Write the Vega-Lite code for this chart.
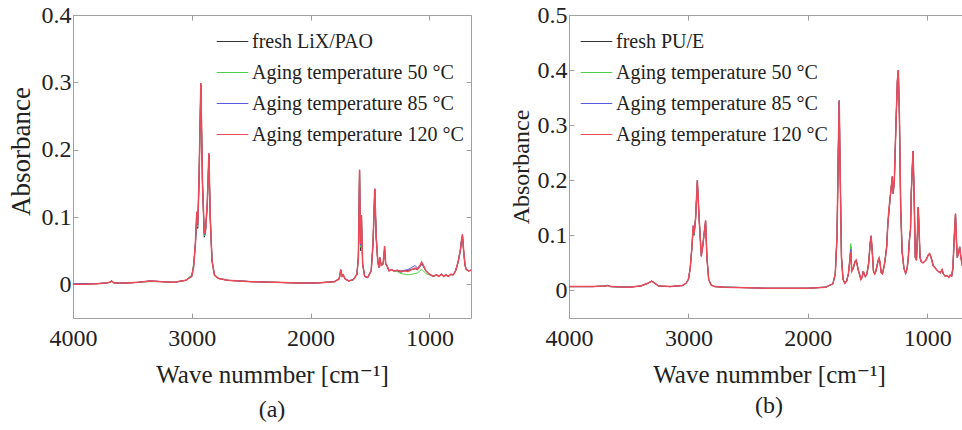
{
"$schema": "https://vega.github.io/schema/vega-lite/v6.json",
"background": "white",
"padding": {"left": 6, "top": 2, "right": 0, "bottom": 0},
"config": {
 "font": "Liberation Serif, Times New Roman, DejaVu Serif, serif",
 "view": {"stroke": "#a0a0a0", "strokeWidth": 1},
 "axis": {"grid": false, "domain": false, "labelFlush": false, "labelFont": "Liberation Serif, Times New Roman, DejaVu Serif, serif", "labelFontSize": 24, "labelColor": "#222222", "titleFont": "Liberation Serif, Times New Roman, DejaVu Serif, serif", "titleFontSize": 25, "titleFontWeight": "normal", "titleColor": "#222222", "tickColor": "#a0a0a0", "tickSize": -5, "tickWidth": 1},
 "legend": {"labelFont": "Liberation Serif, Times New Roman, DejaVu Serif, serif", "labelFontSize": 20, "labelColor": "#222222", "labelLimit": 0},
 "title": {"font": "Liberation Serif, Times New Roman, DejaVu Serif, serif", "fontSize": 24, "fontWeight": "normal", "color": "#222222"}
},
"datasets": {
"a": [
{"s":"f","w":4000,"v":0},{"s":"f","w":3900,"v":0.001},{"s":"f","w":3800,"v":0.001},{"s":"f","w":3720,"v":0.002},{"s":"f","w":3690,"v":0.003},{"s":"f","w":3675,"v":0.005},{"s":"f","w":3655,"v":0.002},{"s":"f","w":3550,"v":0.002},{"s":"f","w":3450,"v":0.003},{"s":"f","w":3350,"v":0.005},{"s":"f","w":3250,"v":0.004},{"s":"f","w":3150,"v":0.003},{"s":"f","w":3050,"v":0.006},{"s":"f","w":3000,"v":0.013},{"s":"f","w":2985,"v":0.028},{"s":"f","w":2970,"v":0.058},{"s":"f","w":2962,"v":0.085},{"s":"f","w":2957,"v":0.093},{"s":"f","w":2950,"v":0.083},{"s":"f","w":2940,"v":0.145},{"s":"f","w":2924,"v":0.295},{"s":"f","w":2910,"v":0.148},{"s":"f","w":2895,"v":0.07},{"s":"f","w":2885,"v":0.076},{"s":"f","w":2870,"v":0.117},{"s":"f","w":2856,"v":0.19},{"s":"f","w":2845,"v":0.1},{"s":"f","w":2830,"v":0.036},{"s":"f","w":2810,"v":0.015},{"s":"f","w":2780,"v":0.009},{"s":"f","w":2700,"v":0.006},{"s":"f","w":2500,"v":0.004},{"s":"f","w":2300,"v":0.003},{"s":"f","w":2100,"v":0.002},{"s":"f","w":1950,"v":0.002},{"s":"f","w":1800,"v":0.004},{"s":"f","w":1760,"v":0.008},{"s":"f","w":1746,"v":0.02},{"s":"f","w":1735,"v":0.012},{"s":"f","w":1725,"v":0.014},{"s":"f","w":1710,"v":0.008},{"s":"f","w":1680,"v":0.005},{"s":"f","w":1640,"v":0.007},{"s":"f","w":1610,"v":0.015},{"s":"f","w":1598,"v":0.04},{"s":"f","w":1588,"v":0.165},{"s":"f","w":1580,"v":0.05},{"s":"f","w":1572,"v":0.095},{"s":"f","w":1562,"v":0.03},{"s":"f","w":1545,"v":0.012},{"s":"f","w":1520,"v":0.01},{"s":"f","w":1490,"v":0.02},{"s":"f","w":1475,"v":0.06},{"s":"f","w":1460,"v":0.141},{"s":"f","w":1448,"v":0.07},{"s":"f","w":1435,"v":0.035},{"s":"f","w":1425,"v":0.025},{"s":"f","w":1418,"v":0.038},{"s":"f","w":1405,"v":0.028},{"s":"f","w":1390,"v":0.03},{"s":"f","w":1377,"v":0.052},{"s":"f","w":1368,"v":0.03},{"s":"f","w":1355,"v":0.027},{"s":"f","w":1340,"v":0.02},{"s":"f","w":1320,"v":0.022},{"s":"f","w":1300,"v":0.02},{"s":"f","w":1270,"v":0.02},{"s":"f","w":1240,"v":0.018},{"s":"f","w":1210,"v":0.02},{"s":"f","w":1180,"v":0.021},{"s":"f","w":1150,"v":0.022},{"s":"f","w":1120,"v":0.023},{"s":"f","w":1100,"v":0.022},{"s":"f","w":1080,"v":0.026},{"s":"f","w":1065,"v":0.03},{"s":"f","w":1050,"v":0.026},{"s":"f","w":1030,"v":0.02},{"s":"f","w":1000,"v":0.015},{"s":"f","w":970,"v":0.012},{"s":"f","w":940,"v":0.014},{"s":"f","w":920,"v":0.012},{"s":"f","w":900,"v":0.015},{"s":"f","w":880,"v":0.012},{"s":"f","w":860,"v":0.014},{"s":"f","w":840,"v":0.012},{"s":"f","w":820,"v":0.015},{"s":"f","w":800,"v":0.014},{"s":"f","w":780,"v":0.02},{"s":"f","w":760,"v":0.032},{"s":"f","w":740,"v":0.05},{"s":"f","w":730,"v":0.065},{"s":"f","w":722,"v":0.072},{"s":"f","w":712,"v":0.05},{"s":"f","w":700,"v":0.028},{"s":"f","w":690,"v":0.022},{"s":"f","w":670,"v":0.02},{"s":"f","w":650,"v":0.021},
{"s":"g","w":4000,"v":0},{"s":"g","w":3900,"v":0},{"s":"g","w":3800,"v":0.001},{"s":"g","w":3720,"v":0.002},{"s":"g","w":3690,"v":0.003},{"s":"g","w":3675,"v":0.004},{"s":"g","w":3655,"v":0.002},{"s":"g","w":3550,"v":0.002},{"s":"g","w":3450,"v":0.003},{"s":"g","w":3350,"v":0.004},{"s":"g","w":3250,"v":0.004},{"s":"g","w":3150,"v":0.003},{"s":"g","w":3050,"v":0.006},{"s":"g","w":3000,"v":0.014},{"s":"g","w":2985,"v":0.03},{"s":"g","w":2970,"v":0.06},{"s":"g","w":2962,"v":0.088},{"s":"g","w":2957,"v":0.095},{"s":"g","w":2950,"v":0.085},{"s":"g","w":2940,"v":0.148},{"s":"g","w":2924,"v":0.297},{"s":"g","w":2910,"v":0.149},{"s":"g","w":2895,"v":0.072},{"s":"g","w":2885,"v":0.078},{"s":"g","w":2870,"v":0.118},{"s":"g","w":2856,"v":0.192},{"s":"g","w":2845,"v":0.1},{"s":"g","w":2830,"v":0.035},{"s":"g","w":2810,"v":0.014},{"s":"g","w":2780,"v":0.009},{"s":"g","w":2700,"v":0.006},{"s":"g","w":2500,"v":0.004},{"s":"g","w":2300,"v":0.003},{"s":"g","w":2100,"v":0.002},{"s":"g","w":1950,"v":0.002},{"s":"g","w":1800,"v":0.004},{"s":"g","w":1760,"v":0.008},{"s":"g","w":1746,"v":0.021},{"s":"g","w":1735,"v":0.012},{"s":"g","w":1725,"v":0.014},{"s":"g","w":1710,"v":0.008},{"s":"g","w":1680,"v":0.005},{"s":"g","w":1640,"v":0.007},{"s":"g","w":1610,"v":0.015},{"s":"g","w":1598,"v":0.04},{"s":"g","w":1588,"v":0.168},{"s":"g","w":1580,"v":0.055},{"s":"g","w":1572,"v":0.1},{"s":"g","w":1562,"v":0.03},{"s":"g","w":1545,"v":0.012},{"s":"g","w":1520,"v":0.01},{"s":"g","w":1490,"v":0.02},{"s":"g","w":1475,"v":0.06},{"s":"g","w":1460,"v":0.14},{"s":"g","w":1448,"v":0.07},{"s":"g","w":1435,"v":0.035},{"s":"g","w":1425,"v":0.025},{"s":"g","w":1418,"v":0.036},{"s":"g","w":1405,"v":0.028},{"s":"g","w":1390,"v":0.03},{"s":"g","w":1377,"v":0.05},{"s":"g","w":1368,"v":0.03},{"s":"g","w":1355,"v":0.026},{"s":"g","w":1340,"v":0.02},{"s":"g","w":1320,"v":0.021},{"s":"g","w":1300,"v":0.02},{"s":"g","w":1270,"v":0.019},{"s":"g","w":1240,"v":0.016},{"s":"g","w":1210,"v":0.015},{"s":"g","w":1180,"v":0.014},{"s":"g","w":1150,"v":0.015},{"s":"g","w":1120,"v":0.016},{"s":"g","w":1100,"v":0.017},{"s":"g","w":1080,"v":0.02},{"s":"g","w":1065,"v":0.022},{"s":"g","w":1050,"v":0.02},{"s":"g","w":1030,"v":0.016},{"s":"g","w":1000,"v":0.014},{"s":"g","w":970,"v":0.012},{"s":"g","w":940,"v":0.013},{"s":"g","w":920,"v":0.012},{"s":"g","w":900,"v":0.014},{"s":"g","w":880,"v":0.012},{"s":"g","w":860,"v":0.013},{"s":"g","w":840,"v":0.012},{"s":"g","w":820,"v":0.014},{"s":"g","w":800,"v":0.014},{"s":"g","w":780,"v":0.02},{"s":"g","w":760,"v":0.032},{"s":"g","w":740,"v":0.05},{"s":"g","w":730,"v":0.065},{"s":"g","w":722,"v":0.073},{"s":"g","w":712,"v":0.05},{"s":"g","w":700,"v":0.028},{"s":"g","w":690,"v":0.022},{"s":"g","w":670,"v":0.02},{"s":"g","w":650,"v":0.021},
{"s":"b","w":4000,"v":0.001},{"s":"b","w":3900,"v":0.001},{"s":"b","w":3800,"v":0.001},{"s":"b","w":3720,"v":0.002},{"s":"b","w":3690,"v":0.003},{"s":"b","w":3675,"v":0.005},{"s":"b","w":3655,"v":0.002},{"s":"b","w":3550,"v":0.002},{"s":"b","w":3450,"v":0.003},{"s":"b","w":3350,"v":0.005},{"s":"b","w":3250,"v":0.004},{"s":"b","w":3150,"v":0.003},{"s":"b","w":3050,"v":0.006},{"s":"b","w":3000,"v":0.012},{"s":"b","w":2985,"v":0.026},{"s":"b","w":2970,"v":0.06},{"s":"b","w":2962,"v":0.09},{"s":"b","w":2957,"v":0.1},{"s":"b","w":2950,"v":0.088},{"s":"b","w":2940,"v":0.15},{"s":"b","w":2924,"v":0.298},{"s":"b","w":2910,"v":0.15},{"s":"b","w":2895,"v":0.074},{"s":"b","w":2885,"v":0.08},{"s":"b","w":2870,"v":0.12},{"s":"b","w":2856,"v":0.194},{"s":"b","w":2845,"v":0.1},{"s":"b","w":2830,"v":0.035},{"s":"b","w":2810,"v":0.014},{"s":"b","w":2780,"v":0.009},{"s":"b","w":2700,"v":0.006},{"s":"b","w":2500,"v":0.004},{"s":"b","w":2300,"v":0.003},{"s":"b","w":2100,"v":0.002},{"s":"b","w":1950,"v":0.002},{"s":"b","w":1800,"v":0.004},{"s":"b","w":1760,"v":0.008},{"s":"b","w":1746,"v":0.022},{"s":"b","w":1735,"v":0.012},{"s":"b","w":1725,"v":0.014},{"s":"b","w":1710,"v":0.008},{"s":"b","w":1680,"v":0.005},{"s":"b","w":1640,"v":0.007},{"s":"b","w":1610,"v":0.015},{"s":"b","w":1598,"v":0.04},{"s":"b","w":1588,"v":0.17},{"s":"b","w":1580,"v":0.058},{"s":"b","w":1572,"v":0.102},{"s":"b","w":1562,"v":0.03},{"s":"b","w":1545,"v":0.012},{"s":"b","w":1520,"v":0.01},{"s":"b","w":1490,"v":0.02},{"s":"b","w":1475,"v":0.06},{"s":"b","w":1460,"v":0.142},{"s":"b","w":1448,"v":0.07},{"s":"b","w":1435,"v":0.035},{"s":"b","w":1425,"v":0.025},{"s":"b","w":1418,"v":0.04},{"s":"b","w":1405,"v":0.028},{"s":"b","w":1390,"v":0.03},{"s":"b","w":1377,"v":0.055},{"s":"b","w":1368,"v":0.03},{"s":"b","w":1355,"v":0.027},{"s":"b","w":1340,"v":0.02},{"s":"b","w":1320,"v":0.022},{"s":"b","w":1300,"v":0.02},{"s":"b","w":1270,"v":0.021},{"s":"b","w":1240,"v":0.02},{"s":"b","w":1210,"v":0.021},{"s":"b","w":1180,"v":0.022},{"s":"b","w":1150,"v":0.025},{"s":"b","w":1120,"v":0.028},{"s":"b","w":1100,"v":0.024},{"s":"b","w":1080,"v":0.028},{"s":"b","w":1065,"v":0.031},{"s":"b","w":1050,"v":0.027},{"s":"b","w":1030,"v":0.02},{"s":"b","w":1000,"v":0.015},{"s":"b","w":970,"v":0.012},{"s":"b","w":940,"v":0.014},{"s":"b","w":920,"v":0.012},{"s":"b","w":900,"v":0.015},{"s":"b","w":880,"v":0.012},{"s":"b","w":860,"v":0.014},{"s":"b","w":840,"v":0.012},{"s":"b","w":820,"v":0.015},{"s":"b","w":800,"v":0.014},{"s":"b","w":780,"v":0.02},{"s":"b","w":760,"v":0.032},{"s":"b","w":740,"v":0.05},{"s":"b","w":730,"v":0.065},{"s":"b","w":722,"v":0.074},{"s":"b","w":712,"v":0.05},{"s":"b","w":700,"v":0.028},{"s":"b","w":690,"v":0.022},{"s":"b","w":670,"v":0.02},{"s":"b","w":650,"v":0.021},
{"s":"r","w":4000,"v":0},{"s":"r","w":3900,"v":0},{"s":"r","w":3800,"v":0.001},{"s":"r","w":3720,"v":0.002},{"s":"r","w":3690,"v":0.003},{"s":"r","w":3675,"v":0.005},{"s":"r","w":3655,"v":0.002},{"s":"r","w":3550,"v":0.002},{"s":"r","w":3450,"v":0.003},{"s":"r","w":3350,"v":0.005},{"s":"r","w":3250,"v":0.004},{"s":"r","w":3150,"v":0.003},{"s":"r","w":3050,"v":0.006},{"s":"r","w":3000,"v":0.012},{"s":"r","w":2985,"v":0.025},{"s":"r","w":2970,"v":0.06},{"s":"r","w":2962,"v":0.095},{"s":"r","w":2957,"v":0.108},{"s":"r","w":2950,"v":0.09},{"s":"r","w":2940,"v":0.15},{"s":"r","w":2924,"v":0.299},{"s":"r","w":2910,"v":0.15},{"s":"r","w":2895,"v":0.075},{"s":"r","w":2885,"v":0.08},{"s":"r","w":2870,"v":0.12},{"s":"r","w":2856,"v":0.195},{"s":"r","w":2845,"v":0.1},{"s":"r","w":2830,"v":0.035},{"s":"r","w":2810,"v":0.014},{"s":"r","w":2780,"v":0.009},{"s":"r","w":2700,"v":0.006},{"s":"r","w":2500,"v":0.004},{"s":"r","w":2300,"v":0.003},{"s":"r","w":2100,"v":0.002},{"s":"r","w":1950,"v":0.002},{"s":"r","w":1800,"v":0.004},{"s":"r","w":1760,"v":0.008},{"s":"r","w":1746,"v":0.022},{"s":"r","w":1735,"v":0.012},{"s":"r","w":1725,"v":0.014},{"s":"r","w":1710,"v":0.008},{"s":"r","w":1680,"v":0.005},{"s":"r","w":1640,"v":0.007},{"s":"r","w":1610,"v":0.015},{"s":"r","w":1598,"v":0.04},{"s":"r","w":1588,"v":0.17},{"s":"r","w":1580,"v":0.06},{"s":"r","w":1572,"v":0.103},{"s":"r","w":1562,"v":0.03},{"s":"r","w":1545,"v":0.012},{"s":"r","w":1520,"v":0.01},{"s":"r","w":1490,"v":0.02},{"s":"r","w":1475,"v":0.06},{"s":"r","w":1460,"v":0.142},{"s":"r","w":1448,"v":0.07},{"s":"r","w":1435,"v":0.035},{"s":"r","w":1425,"v":0.025},{"s":"r","w":1418,"v":0.04},{"s":"r","w":1405,"v":0.028},{"s":"r","w":1390,"v":0.03},{"s":"r","w":1377,"v":0.057},{"s":"r","w":1368,"v":0.03},{"s":"r","w":1355,"v":0.027},{"s":"r","w":1340,"v":0.02},{"s":"r","w":1320,"v":0.022},{"s":"r","w":1300,"v":0.02},{"s":"r","w":1270,"v":0.021},{"s":"r","w":1240,"v":0.019},{"s":"r","w":1210,"v":0.02},{"s":"r","w":1180,"v":0.019},{"s":"r","w":1150,"v":0.022},{"s":"r","w":1120,"v":0.024},{"s":"r","w":1100,"v":0.022},{"s":"r","w":1080,"v":0.028},{"s":"r","w":1065,"v":0.033},{"s":"r","w":1050,"v":0.028},{"s":"r","w":1030,"v":0.02},{"s":"r","w":1000,"v":0.015},{"s":"r","w":970,"v":0.012},{"s":"r","w":940,"v":0.014},{"s":"r","w":920,"v":0.012},{"s":"r","w":900,"v":0.015},{"s":"r","w":880,"v":0.012},{"s":"r","w":860,"v":0.014},{"s":"r","w":840,"v":0.012},{"s":"r","w":820,"v":0.015},{"s":"r","w":800,"v":0.014},{"s":"r","w":780,"v":0.02},{"s":"r","w":760,"v":0.032},{"s":"r","w":740,"v":0.05},{"s":"r","w":730,"v":0.065},{"s":"r","w":722,"v":0.074},{"s":"r","w":712,"v":0.05},{"s":"r","w":700,"v":0.028},{"s":"r","w":690,"v":0.022},{"s":"r","w":670,"v":0.02},{"s":"r","w":650,"v":0.021}
],
"b": [
{"s":"f","w":4000,"v":0.007},{"s":"f","w":3900,"v":0.007},{"s":"f","w":3800,"v":0.007},{"s":"f","w":3700,"v":0.008},{"s":"f","w":3674,"v":0.009},{"s":"f","w":3650,"v":0.007},{"s":"f","w":3500,"v":0.006},{"s":"f","w":3400,"v":0.008},{"s":"f","w":3340,"v":0.013},{"s":"f","w":3307,"v":0.017},{"s":"f","w":3280,"v":0.013},{"s":"f","w":3250,"v":0.008},{"s":"f","w":3150,"v":0.007},{"s":"f","w":3050,"v":0.009},{"s":"f","w":3020,"v":0.013},{"s":"f","w":3000,"v":0.02},{"s":"f","w":2985,"v":0.04},{"s":"f","w":2970,"v":0.08},{"s":"f","w":2960,"v":0.112},{"s":"f","w":2952,"v":0.1},{"s":"f","w":2940,"v":0.13},{"s":"f","w":2925,"v":0.198},{"s":"f","w":2910,"v":0.13},{"s":"f","w":2892,"v":0.065},{"s":"f","w":2880,"v":0.08},{"s":"f","w":2870,"v":0.1},{"s":"f","w":2856,"v":0.125},{"s":"f","w":2845,"v":0.06},{"s":"f","w":2830,"v":0.02},{"s":"f","w":2810,"v":0.01},{"s":"f","w":2780,"v":0.007},{"s":"f","w":2700,"v":0.006},{"s":"f","w":2500,"v":0.005},{"s":"f","w":2350,"v":0.004},{"s":"f","w":2200,"v":0.004},{"s":"f","w":2000,"v":0.004},{"s":"f","w":1850,"v":0.006},{"s":"f","w":1790,"v":0.012},{"s":"f","w":1770,"v":0.03},{"s":"f","w":1755,"v":0.1},{"s":"f","w":1745,"v":0.25},{"s":"f","w":1737,"v":0.343},{"s":"f","w":1728,"v":0.2},{"s":"f","w":1718,"v":0.06},{"s":"f","w":1705,"v":0.02},{"s":"f","w":1690,"v":0.013},{"s":"f","w":1675,"v":0.017},{"s":"f","w":1660,"v":0.03},{"s":"f","w":1648,"v":0.055},{"s":"f","w":1640,"v":0.08},{"s":"f","w":1632,"v":0.035},{"s":"f","w":1620,"v":0.04},{"s":"f","w":1605,"v":0.052},{"s":"f","w":1595,"v":0.055},{"s":"f","w":1585,"v":0.045},{"s":"f","w":1575,"v":0.035},{"s":"f","w":1565,"v":0.028},{"s":"f","w":1555,"v":0.02},{"s":"f","w":1545,"v":0.024},{"s":"f","w":1535,"v":0.035},{"s":"f","w":1528,"v":0.03},{"s":"f","w":1518,"v":0.025},{"s":"f","w":1505,"v":0.03},{"s":"f","w":1490,"v":0.05},{"s":"f","w":1478,"v":0.085},{"s":"f","w":1470,"v":0.099},{"s":"f","w":1460,"v":0.07},{"s":"f","w":1450,"v":0.035},{"s":"f","w":1440,"v":0.03},{"s":"f","w":1430,"v":0.035},{"s":"f","w":1420,"v":0.045},{"s":"f","w":1410,"v":0.055},{"s":"f","w":1403,"v":0.059},{"s":"f","w":1395,"v":0.05},{"s":"f","w":1385,"v":0.032},{"s":"f","w":1375,"v":0.03},{"s":"f","w":1360,"v":0.045},{"s":"f","w":1350,"v":0.06},{"s":"f","w":1339,"v":0.08},{"s":"f","w":1330,"v":0.12},{"s":"f","w":1320,"v":0.142},{"s":"f","w":1305,"v":0.18},{"s":"f","w":1292,"v":0.205},{"s":"f","w":1285,"v":0.176},{"s":"f","w":1275,"v":0.2},{"s":"f","w":1262,"v":0.3},{"s":"f","w":1250,"v":0.38},{"s":"f","w":1242,"v":0.398},{"s":"f","w":1233,"v":0.32},{"s":"f","w":1222,"v":0.15},{"s":"f","w":1210,"v":0.07},{"s":"f","w":1195,"v":0.04},{"s":"f","w":1180,"v":0.031},{"s":"f","w":1168,"v":0.04},{"s":"f","w":1158,"v":0.06},{"s":"f","w":1150,"v":0.09},{"s":"f","w":1140,"v":0.11},{"s":"f","w":1133,"v":0.18},{"s":"f","w":1119,"v":0.252},{"s":"f","w":1110,"v":0.18},{"s":"f","w":1100,"v":0.06},{"s":"f","w":1090,"v":0.055},{"s":"f","w":1082,"v":0.1},{"s":"f","w":1075,"v":0.15},{"s":"f","w":1068,"v":0.11},{"s":"f","w":1060,"v":0.06},{"s":"f","w":1050,"v":0.052},{"s":"f","w":1035,"v":0.05},{"s":"f","w":1010,"v":0.055},{"s":"f","w":990,"v":0.065},{"s":"f","w":980,"v":0.067},{"s":"f","w":965,"v":0.058},{"s":"f","w":950,"v":0.045},{"s":"f","w":930,"v":0.04},{"s":"f","w":910,"v":0.035},{"s":"f","w":890,"v":0.032},{"s":"f","w":875,"v":0.038},{"s":"f","w":865,"v":0.03},{"s":"f","w":850,"v":0.026},{"s":"f","w":835,"v":0.027},{"s":"f","w":818,"v":0.024},{"s":"f","w":808,"v":0.028},{"s":"f","w":795,"v":0.026},{"s":"f","w":785,"v":0.04},{"s":"f","w":775,"v":0.09},{"s":"f","w":763,"v":0.139},{"s":"f","w":755,"v":0.09},{"s":"f","w":748,"v":0.06},{"s":"f","w":738,"v":0.068},{"s":"f","w":728,"v":0.079},{"s":"f","w":718,"v":0.06},{"s":"f","w":705,"v":0.045},{"s":"f","w":690,"v":0.04},{"s":"f","w":670,"v":0.045},{"s":"f","w":650,"v":0.05},
{"s":"g","w":4000,"v":0.007},{"s":"g","w":3900,"v":0.007},{"s":"g","w":3800,"v":0.007},{"s":"g","w":3700,"v":0.008},{"s":"g","w":3674,"v":0.009},{"s":"g","w":3650,"v":0.007},{"s":"g","w":3500,"v":0.006},{"s":"g","w":3400,"v":0.008},{"s":"g","w":3340,"v":0.013},{"s":"g","w":3307,"v":0.017},{"s":"g","w":3280,"v":0.013},{"s":"g","w":3250,"v":0.008},{"s":"g","w":3150,"v":0.007},{"s":"g","w":3050,"v":0.009},{"s":"g","w":3020,"v":0.013},{"s":"g","w":3000,"v":0.02},{"s":"g","w":2985,"v":0.04},{"s":"g","w":2970,"v":0.08},{"s":"g","w":2960,"v":0.115},{"s":"g","w":2952,"v":0.102},{"s":"g","w":2940,"v":0.13},{"s":"g","w":2925,"v":0.199},{"s":"g","w":2910,"v":0.13},{"s":"g","w":2892,"v":0.063},{"s":"g","w":2880,"v":0.08},{"s":"g","w":2870,"v":0.1},{"s":"g","w":2856,"v":0.126},{"s":"g","w":2845,"v":0.06},{"s":"g","w":2830,"v":0.02},{"s":"g","w":2810,"v":0.01},{"s":"g","w":2780,"v":0.007},{"s":"g","w":2700,"v":0.006},{"s":"g","w":2500,"v":0.005},{"s":"g","w":2350,"v":0.004},{"s":"g","w":2200,"v":0.004},{"s":"g","w":2000,"v":0.004},{"s":"g","w":1850,"v":0.006},{"s":"g","w":1790,"v":0.012},{"s":"g","w":1770,"v":0.03},{"s":"g","w":1755,"v":0.1},{"s":"g","w":1745,"v":0.25},{"s":"g","w":1737,"v":0.344},{"s":"g","w":1728,"v":0.2},{"s":"g","w":1718,"v":0.06},{"s":"g","w":1705,"v":0.02},{"s":"g","w":1690,"v":0.013},{"s":"g","w":1675,"v":0.017},{"s":"g","w":1660,"v":0.03},{"s":"g","w":1648,"v":0.055},{"s":"g","w":1640,"v":0.085},{"s":"g","w":1632,"v":0.035},{"s":"g","w":1620,"v":0.04},{"s":"g","w":1605,"v":0.052},{"s":"g","w":1595,"v":0.055},{"s":"g","w":1585,"v":0.045},{"s":"g","w":1575,"v":0.035},{"s":"g","w":1565,"v":0.028},{"s":"g","w":1555,"v":0.02},{"s":"g","w":1545,"v":0.024},{"s":"g","w":1535,"v":0.035},{"s":"g","w":1528,"v":0.03},{"s":"g","w":1518,"v":0.025},{"s":"g","w":1505,"v":0.03},{"s":"g","w":1490,"v":0.05},{"s":"g","w":1478,"v":0.085},{"s":"g","w":1470,"v":0.099},{"s":"g","w":1460,"v":0.07},{"s":"g","w":1450,"v":0.035},{"s":"g","w":1440,"v":0.03},{"s":"g","w":1430,"v":0.035},{"s":"g","w":1420,"v":0.045},{"s":"g","w":1410,"v":0.055},{"s":"g","w":1403,"v":0.059},{"s":"g","w":1395,"v":0.05},{"s":"g","w":1385,"v":0.032},{"s":"g","w":1375,"v":0.03},{"s":"g","w":1360,"v":0.045},{"s":"g","w":1350,"v":0.06},{"s":"g","w":1339,"v":0.08},{"s":"g","w":1330,"v":0.12},{"s":"g","w":1320,"v":0.145},{"s":"g","w":1305,"v":0.18},{"s":"g","w":1292,"v":0.206},{"s":"g","w":1285,"v":0.176},{"s":"g","w":1275,"v":0.2},{"s":"g","w":1262,"v":0.3},{"s":"g","w":1250,"v":0.38},{"s":"g","w":1242,"v":0.399},{"s":"g","w":1233,"v":0.32},{"s":"g","w":1222,"v":0.15},{"s":"g","w":1210,"v":0.07},{"s":"g","w":1195,"v":0.04},{"s":"g","w":1180,"v":0.031},{"s":"g","w":1168,"v":0.04},{"s":"g","w":1158,"v":0.06},{"s":"g","w":1150,"v":0.09},{"s":"g","w":1140,"v":0.11},{"s":"g","w":1133,"v":0.18},{"s":"g","w":1119,"v":0.253},{"s":"g","w":1110,"v":0.18},{"s":"g","w":1100,"v":0.06},{"s":"g","w":1090,"v":0.055},{"s":"g","w":1082,"v":0.1},{"s":"g","w":1075,"v":0.151},{"s":"g","w":1068,"v":0.11},{"s":"g","w":1060,"v":0.06},{"s":"g","w":1050,"v":0.052},{"s":"g","w":1035,"v":0.05},{"s":"g","w":1010,"v":0.055},{"s":"g","w":990,"v":0.065},{"s":"g","w":980,"v":0.067},{"s":"g","w":965,"v":0.058},{"s":"g","w":950,"v":0.045},{"s":"g","w":930,"v":0.04},{"s":"g","w":910,"v":0.035},{"s":"g","w":890,"v":0.032},{"s":"g","w":875,"v":0.038},{"s":"g","w":865,"v":0.03},{"s":"g","w":850,"v":0.026},{"s":"g","w":835,"v":0.027},{"s":"g","w":818,"v":0.024},{"s":"g","w":808,"v":0.028},{"s":"g","w":795,"v":0.026},{"s":"g","w":785,"v":0.04},{"s":"g","w":775,"v":0.09},{"s":"g","w":763,"v":0.139},{"s":"g","w":755,"v":0.09},{"s":"g","w":748,"v":0.06},{"s":"g","w":738,"v":0.068},{"s":"g","w":728,"v":0.079},{"s":"g","w":718,"v":0.06},{"s":"g","w":705,"v":0.045},{"s":"g","w":690,"v":0.04},{"s":"g","w":670,"v":0.045},{"s":"g","w":650,"v":0.05},
{"s":"b","w":4000,"v":0.007},{"s":"b","w":3900,"v":0.007},{"s":"b","w":3800,"v":0.007},{"s":"b","w":3700,"v":0.008},{"s":"b","w":3674,"v":0.009},{"s":"b","w":3650,"v":0.007},{"s":"b","w":3500,"v":0.006},{"s":"b","w":3400,"v":0.008},{"s":"b","w":3340,"v":0.013},{"s":"b","w":3307,"v":0.017},{"s":"b","w":3280,"v":0.013},{"s":"b","w":3250,"v":0.008},{"s":"b","w":3150,"v":0.007},{"s":"b","w":3050,"v":0.009},{"s":"b","w":3020,"v":0.013},{"s":"b","w":3000,"v":0.02},{"s":"b","w":2985,"v":0.04},{"s":"b","w":2970,"v":0.08},{"s":"b","w":2960,"v":0.117},{"s":"b","w":2952,"v":0.104},{"s":"b","w":2940,"v":0.13},{"s":"b","w":2925,"v":0.2},{"s":"b","w":2910,"v":0.13},{"s":"b","w":2892,"v":0.062},{"s":"b","w":2880,"v":0.08},{"s":"b","w":2870,"v":0.1},{"s":"b","w":2856,"v":0.127},{"s":"b","w":2845,"v":0.06},{"s":"b","w":2830,"v":0.02},{"s":"b","w":2810,"v":0.01},{"s":"b","w":2780,"v":0.007},{"s":"b","w":2700,"v":0.006},{"s":"b","w":2500,"v":0.005},{"s":"b","w":2350,"v":0.004},{"s":"b","w":2200,"v":0.004},{"s":"b","w":2000,"v":0.004},{"s":"b","w":1850,"v":0.006},{"s":"b","w":1790,"v":0.012},{"s":"b","w":1770,"v":0.03},{"s":"b","w":1755,"v":0.1},{"s":"b","w":1745,"v":0.25},{"s":"b","w":1737,"v":0.345},{"s":"b","w":1728,"v":0.2},{"s":"b","w":1718,"v":0.06},{"s":"b","w":1705,"v":0.02},{"s":"b","w":1690,"v":0.013},{"s":"b","w":1675,"v":0.017},{"s":"b","w":1660,"v":0.03},{"s":"b","w":1648,"v":0.055},{"s":"b","w":1640,"v":0.075},{"s":"b","w":1632,"v":0.035},{"s":"b","w":1620,"v":0.04},{"s":"b","w":1605,"v":0.052},{"s":"b","w":1595,"v":0.055},{"s":"b","w":1585,"v":0.045},{"s":"b","w":1575,"v":0.035},{"s":"b","w":1565,"v":0.028},{"s":"b","w":1555,"v":0.02},{"s":"b","w":1545,"v":0.024},{"s":"b","w":1535,"v":0.035},{"s":"b","w":1528,"v":0.03},{"s":"b","w":1518,"v":0.025},{"s":"b","w":1505,"v":0.03},{"s":"b","w":1490,"v":0.05},{"s":"b","w":1478,"v":0.085},{"s":"b","w":1470,"v":0.099},{"s":"b","w":1460,"v":0.07},{"s":"b","w":1450,"v":0.035},{"s":"b","w":1440,"v":0.03},{"s":"b","w":1430,"v":0.035},{"s":"b","w":1420,"v":0.045},{"s":"b","w":1410,"v":0.055},{"s":"b","w":1403,"v":0.059},{"s":"b","w":1395,"v":0.05},{"s":"b","w":1385,"v":0.032},{"s":"b","w":1375,"v":0.03},{"s":"b","w":1360,"v":0.045},{"s":"b","w":1350,"v":0.06},{"s":"b","w":1339,"v":0.08},{"s":"b","w":1330,"v":0.12},{"s":"b","w":1320,"v":0.147},{"s":"b","w":1305,"v":0.18},{"s":"b","w":1292,"v":0.207},{"s":"b","w":1285,"v":0.176},{"s":"b","w":1275,"v":0.2},{"s":"b","w":1262,"v":0.3},{"s":"b","w":1250,"v":0.38},{"s":"b","w":1242,"v":0.4},{"s":"b","w":1233,"v":0.32},{"s":"b","w":1222,"v":0.15},{"s":"b","w":1210,"v":0.07},{"s":"b","w":1195,"v":0.04},{"s":"b","w":1180,"v":0.031},{"s":"b","w":1168,"v":0.04},{"s":"b","w":1158,"v":0.06},{"s":"b","w":1150,"v":0.09},{"s":"b","w":1140,"v":0.11},{"s":"b","w":1133,"v":0.18},{"s":"b","w":1119,"v":0.253},{"s":"b","w":1110,"v":0.18},{"s":"b","w":1100,"v":0.06},{"s":"b","w":1090,"v":0.055},{"s":"b","w":1082,"v":0.1},{"s":"b","w":1075,"v":0.151},{"s":"b","w":1068,"v":0.11},{"s":"b","w":1060,"v":0.06},{"s":"b","w":1050,"v":0.052},{"s":"b","w":1035,"v":0.05},{"s":"b","w":1010,"v":0.055},{"s":"b","w":990,"v":0.065},{"s":"b","w":980,"v":0.067},{"s":"b","w":965,"v":0.058},{"s":"b","w":950,"v":0.045},{"s":"b","w":930,"v":0.04},{"s":"b","w":910,"v":0.035},{"s":"b","w":890,"v":0.032},{"s":"b","w":875,"v":0.038},{"s":"b","w":865,"v":0.03},{"s":"b","w":850,"v":0.026},{"s":"b","w":835,"v":0.027},{"s":"b","w":818,"v":0.024},{"s":"b","w":808,"v":0.028},{"s":"b","w":795,"v":0.026},{"s":"b","w":785,"v":0.04},{"s":"b","w":775,"v":0.09},{"s":"b","w":763,"v":0.139},{"s":"b","w":755,"v":0.09},{"s":"b","w":748,"v":0.06},{"s":"b","w":738,"v":0.068},{"s":"b","w":728,"v":0.079},{"s":"b","w":718,"v":0.06},{"s":"b","w":705,"v":0.045},{"s":"b","w":690,"v":0.04},{"s":"b","w":670,"v":0.045},{"s":"b","w":650,"v":0.05},
{"s":"r","w":4000,"v":0.007},{"s":"r","w":3900,"v":0.007},{"s":"r","w":3800,"v":0.007},{"s":"r","w":3700,"v":0.008},{"s":"r","w":3674,"v":0.009},{"s":"r","w":3650,"v":0.007},{"s":"r","w":3500,"v":0.006},{"s":"r","w":3400,"v":0.008},{"s":"r","w":3340,"v":0.013},{"s":"r","w":3307,"v":0.017},{"s":"r","w":3280,"v":0.013},{"s":"r","w":3250,"v":0.008},{"s":"r","w":3150,"v":0.007},{"s":"r","w":3050,"v":0.009},{"s":"r","w":3020,"v":0.013},{"s":"r","w":3000,"v":0.02},{"s":"r","w":2985,"v":0.04},{"s":"r","w":2970,"v":0.08},{"s":"r","w":2960,"v":0.118},{"s":"r","w":2952,"v":0.105},{"s":"r","w":2940,"v":0.13},{"s":"r","w":2925,"v":0.2},{"s":"r","w":2910,"v":0.13},{"s":"r","w":2892,"v":0.062},{"s":"r","w":2880,"v":0.08},{"s":"r","w":2870,"v":0.1},{"s":"r","w":2856,"v":0.127},{"s":"r","w":2845,"v":0.06},{"s":"r","w":2830,"v":0.02},{"s":"r","w":2810,"v":0.01},{"s":"r","w":2780,"v":0.007},{"s":"r","w":2700,"v":0.006},{"s":"r","w":2500,"v":0.005},{"s":"r","w":2350,"v":0.004},{"s":"r","w":2200,"v":0.004},{"s":"r","w":2000,"v":0.004},{"s":"r","w":1850,"v":0.006},{"s":"r","w":1790,"v":0.012},{"s":"r","w":1770,"v":0.03},{"s":"r","w":1755,"v":0.1},{"s":"r","w":1745,"v":0.25},{"s":"r","w":1737,"v":0.345},{"s":"r","w":1728,"v":0.2},{"s":"r","w":1718,"v":0.06},{"s":"r","w":1705,"v":0.02},{"s":"r","w":1690,"v":0.013},{"s":"r","w":1675,"v":0.017},{"s":"r","w":1660,"v":0.03},{"s":"r","w":1648,"v":0.055},{"s":"r","w":1640,"v":0.07},{"s":"r","w":1632,"v":0.035},{"s":"r","w":1620,"v":0.04},{"s":"r","w":1605,"v":0.052},{"s":"r","w":1595,"v":0.055},{"s":"r","w":1585,"v":0.045},{"s":"r","w":1575,"v":0.035},{"s":"r","w":1565,"v":0.028},{"s":"r","w":1555,"v":0.02},{"s":"r","w":1545,"v":0.024},{"s":"r","w":1535,"v":0.035},{"s":"r","w":1528,"v":0.03},{"s":"r","w":1518,"v":0.025},{"s":"r","w":1505,"v":0.03},{"s":"r","w":1490,"v":0.05},{"s":"r","w":1478,"v":0.085},{"s":"r","w":1470,"v":0.099},{"s":"r","w":1460,"v":0.07},{"s":"r","w":1450,"v":0.035},{"s":"r","w":1440,"v":0.03},{"s":"r","w":1430,"v":0.035},{"s":"r","w":1420,"v":0.045},{"s":"r","w":1410,"v":0.055},{"s":"r","w":1403,"v":0.059},{"s":"r","w":1395,"v":0.05},{"s":"r","w":1385,"v":0.032},{"s":"r","w":1375,"v":0.03},{"s":"r","w":1360,"v":0.045},{"s":"r","w":1350,"v":0.06},{"s":"r","w":1339,"v":0.08},{"s":"r","w":1330,"v":0.12},{"s":"r","w":1320,"v":0.149},{"s":"r","w":1305,"v":0.18},{"s":"r","w":1292,"v":0.207},{"s":"r","w":1285,"v":0.176},{"s":"r","w":1275,"v":0.2},{"s":"r","w":1262,"v":0.3},{"s":"r","w":1250,"v":0.38},{"s":"r","w":1242,"v":0.4},{"s":"r","w":1233,"v":0.32},{"s":"r","w":1222,"v":0.15},{"s":"r","w":1210,"v":0.07},{"s":"r","w":1195,"v":0.04},{"s":"r","w":1180,"v":0.031},{"s":"r","w":1168,"v":0.04},{"s":"r","w":1158,"v":0.06},{"s":"r","w":1150,"v":0.09},{"s":"r","w":1140,"v":0.11},{"s":"r","w":1133,"v":0.18},{"s":"r","w":1119,"v":0.253},{"s":"r","w":1110,"v":0.18},{"s":"r","w":1100,"v":0.06},{"s":"r","w":1090,"v":0.055},{"s":"r","w":1082,"v":0.1},{"s":"r","w":1075,"v":0.151},{"s":"r","w":1068,"v":0.11},{"s":"r","w":1060,"v":0.06},{"s":"r","w":1050,"v":0.052},{"s":"r","w":1035,"v":0.05},{"s":"r","w":1010,"v":0.055},{"s":"r","w":990,"v":0.065},{"s":"r","w":980,"v":0.067},{"s":"r","w":965,"v":0.058},{"s":"r","w":950,"v":0.045},{"s":"r","w":930,"v":0.04},{"s":"r","w":910,"v":0.035},{"s":"r","w":890,"v":0.032},{"s":"r","w":875,"v":0.038},{"s":"r","w":865,"v":0.03},{"s":"r","w":850,"v":0.026},{"s":"r","w":835,"v":0.027},{"s":"r","w":818,"v":0.024},{"s":"r","w":808,"v":0.028},{"s":"r","w":795,"v":0.026},{"s":"r","w":785,"v":0.04},{"s":"r","w":775,"v":0.09},{"s":"r","w":763,"v":0.139},{"s":"r","w":755,"v":0.09},{"s":"r","w":748,"v":0.06},{"s":"r","w":738,"v":0.068},{"s":"r","w":728,"v":0.079},{"s":"r","w":718,"v":0.06},{"s":"r","w":705,"v":0.045},{"s":"r","w":690,"v":0.04},{"s":"r","w":670,"v":0.045},{"s":"r","w":650,"v":0.05}
]
},
"spacing": 36,
"resolve": {"scale": {"color": "independent"}, "legend": {"color": "independent"}},
"hconcat": [
{
 "width": 398, "height": 303,
 "data": {"name": "a"},
 "title": {"text": "(a)", "orient": "bottom", "offset": 11},
 "resolve": {"axis": {"x": "independent", "y": "independent"}},
 "encoding": {
  "x": {"field": "w", "type": "quantitative", "scale": {"domain": [650, 4000], "reverse": true, "nice": false, "zero": false}, "axis": null},
  "y": {"field": "v", "type": "quantitative", "scale": {"domain": [-0.05, 0.4], "nice": false, "zero": false}, "axis": null},
  "color": {"field": "s", "type": "nominal", "scale": {"domain": ["f", "g", "b", "r"], "range": ["#333333", "#4ccf4c", "#5a5ae0", "#ec4a58"]},
   "legend": {"orient": "none", "legendX": 143, "legendY": 10, "title": null, "symbolType": "stroke", "symbolSize": 1000, "symbolStrokeWidth": 1, "labelFontSize": 20, "labelOffset": 3, "rowPadding": 4, "labelLimit": 0,
    "labelExpr": "datum.label=='f'?'fresh LiX/PAO':datum.label=='g'?'Aging temperature 50 °C':datum.label=='b'?'Aging temperature 85 °C':'Aging temperature 120 °C'"}}
 },
 "layer": [
  {"transform": [{"filter": "datum.s=='f'"}], "mark": {"type": "line", "strokeWidth": 1, "clip": true},
   "encoding": {
    "x": {"field": "w", "type": "quantitative", "scale": {"domain": [650, 4000], "reverse": true, "nice": false, "zero": false}, "axis": {"orient": "bottom", "values": [1000, 2000, 3000, 4000], "format": "d", "title": "Wave nummber [cm⁻¹]", "labelPadding": 13, "titlePadding": 12}},
    "y": {"field": "v", "type": "quantitative", "scale": {"domain": [-0.05, 0.4], "nice": false, "zero": false}, "axis": {"orient": "left", "values": [0, 0.1, 0.2, 0.3, 0.4], "labelExpr": "datum.value==0?'0':format(datum.value,'.1f')", "title": "Absorbance", "titleFontSize": 27, "titleY": 136, "labelPadding": 7, "titlePadding": 6}}
   }},
  {"transform": [{"filter": "datum.s=='g'"}], "mark": {"type": "line", "strokeWidth": 1, "clip": true}},
  {"transform": [{"filter": "datum.s=='b'"}], "mark": {"type": "line", "strokeWidth": 1, "clip": true}},
  {"transform": [{"filter": "datum.s=='r'"}], "mark": {"type": "line", "strokeWidth": 1.5, "clip": true},
   "encoding": {
    "x": {"field": "w", "type": "quantitative", "scale": {"domain": [650, 4000], "reverse": true, "nice": false, "zero": false}, "axis": {"orient": "top", "values": [1000, 2000, 3000, 4000], "labels": false, "title": null}},
    "y": {"field": "v", "type": "quantitative", "scale": {"domain": [-0.05, 0.4], "nice": false, "zero": false}, "axis": {"orient": "right", "values": [0, 0.1, 0.2, 0.3, 0.4], "labels": false, "title": null}}
   }}
 ]
},
{
 "width": 400, "height": 303,
 "data": {"name": "b"},
 "title": {"text": "(b)", "orient": "bottom", "offset": 7},
 "resolve": {"axis": {"x": "independent", "y": "independent"}},
 "encoding": {
  "x": {"field": "w", "type": "quantitative", "scale": {"domain": [650, 4000], "reverse": true, "nice": false, "zero": false}, "axis": null},
  "y": {"field": "v", "type": "quantitative", "scale": {"domain": [-0.05, 0.5], "nice": false, "zero": false}, "axis": null},
  "color": {"field": "s", "type": "nominal", "scale": {"domain": ["f", "g", "b", "r"], "range": ["#333333", "#4ccf4c", "#5a5ae0", "#ec4a58"]},
   "legend": {"orient": "none", "legendX": 11, "legendY": 10, "title": null, "symbolType": "stroke", "symbolSize": 1000, "symbolStrokeWidth": 1, "labelFontSize": 20, "labelOffset": 3, "rowPadding": 4, "labelLimit": 0,
    "labelExpr": "datum.label=='f'?'fresh PU/E':datum.label=='g'?'Aging temperature 50 °C':datum.label=='b'?'Aging temperature 85 °C':'Aging temperature 120 °C'"}}
 },
 "layer": [
  {"transform": [{"filter": "datum.s=='f'"}], "mark": {"type": "line", "strokeWidth": 1, "clip": true},
   "encoding": {
    "x": {"field": "w", "type": "quantitative", "scale": {"domain": [650, 4000], "reverse": true, "nice": false, "zero": false}, "axis": {"orient": "bottom", "values": [1000, 2000, 3000, 4000], "format": "d", "title": "Wave nummber [cm⁻¹]", "labelPadding": 13, "titlePadding": 12}},
    "y": {"field": "v", "type": "quantitative", "scale": {"domain": [-0.05, 0.5], "nice": false, "zero": false}, "axis": {"orient": "left", "values": [0, 0.1, 0.2, 0.3, 0.4, 0.5], "labelExpr": "datum.value==0?'0':format(datum.value,'.1f')", "title": "Absorbance", "titleFontSize": 24, "labelPadding": 7, "titlePadding": 4}}
   }},
  {"transform": [{"filter": "datum.s=='g'"}], "mark": {"type": "line", "strokeWidth": 1, "clip": true}},
  {"transform": [{"filter": "datum.s=='b'"}], "mark": {"type": "line", "strokeWidth": 1, "clip": true}},
  {"transform": [{"filter": "datum.s=='r'"}], "mark": {"type": "line", "strokeWidth": 1.5, "clip": true},
   "encoding": {
    "x": {"field": "w", "type": "quantitative", "scale": {"domain": [650, 4000], "reverse": true, "nice": false, "zero": false}, "axis": {"orient": "top", "values": [1000, 2000, 3000, 4000], "labels": false, "title": null}},
    "y": {"field": "v", "type": "quantitative", "scale": {"domain": [-0.05, 0.5], "nice": false, "zero": false}, "axis": {"orient": "right", "values": [0, 0.1, 0.2, 0.3, 0.4, 0.5], "labels": false, "title": null}}
   }}
 ]
}
]
}
